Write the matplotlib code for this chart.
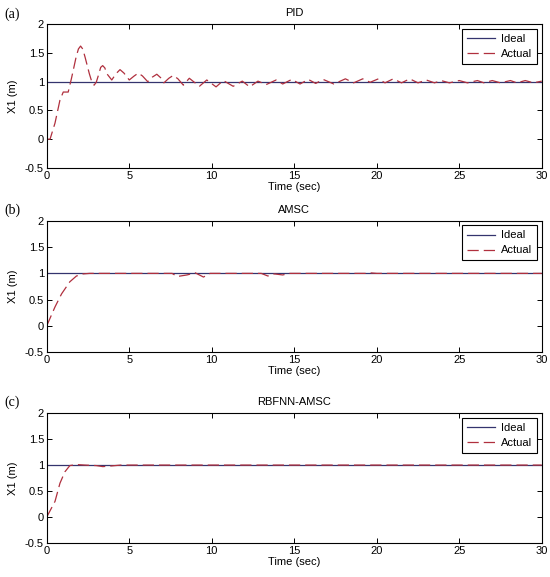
import numpy as np
import matplotlib.pyplot as plt

# reference (ideal) trajectory
t_ideal = [0, 30]
x_ideal = [1, 1]

# PID response
t_pid = [0, 0.2, 0.5, 0.8, 1.0, 1.3, 1.5, 1.78, 1.92, 2.05, 2.18, 2.32, 2.58, 2.75, 2.87,
         3.0, 3.13, 3.27, 3.39, 3.52, 3.64, 3.94, 4.2, 4.44, 4.68, 5.0, 5.3, 5.55,
         5.8, 6.12, 6.4, 6.67, 6.9, 7.1, 7.4, 7.67, 7.95, 8.28, 8.64, 9.25,
         9.7, 10.26, 10.7, 11.3, 11.85, 12.3, 12.8, 13.3, 13.9, 14.3, 14.85,
         15.35, 15.85, 16.3, 16.75, 17.4, 18.1, 18.6, 19.15, 19.6, 20.1, 20.5,
         21.0, 21.5, 22.0, 22.5, 23.0, 23.5, 23.9, 24.4, 25.0, 25.5, 26.1, 26.5,
         27.0, 27.5, 28.1, 28.5, 29.0, 29.5, 30.0]
x_pid = [0, 0, 0.28, 0.68, 0.82, 0.82, 1.06, 1.43, 1.57, 1.62, 1.57, 1.43, 1.14, 0.98, 0.94,
         0.99, 1.11, 1.25, 1.28, 1.24, 1.14, 1.03, 1.14, 1.21, 1.15, 1.03, 1.1, 1.15,
         1.1, 1.0, 1.08, 1.13, 1.07, 0.98, 1.06, 1.11, 1.05, 0.94, 1.06, 0.92,
         1.03, 0.91, 1.02, 0.92, 1.01, 0.91, 1.01, 0.95, 1.03, 0.96, 1.04,
         0.96, 1.04, 0.97, 1.04, 0.96, 1.05, 0.98, 1.05, 0.99, 1.05, 0.98,
         1.05, 0.98, 1.05, 0.98, 1.03, 0.98, 1.02, 0.98, 1.02, 0.98, 1.02, 0.98,
         1.02, 0.98, 1.02, 0.98, 1.02, 0.98, 1.01]

# AMSC response
t_amsc = [0, 0.5, 0.9, 1.4, 1.8, 2.2, 2.6, 7.6, 7.9, 8.5, 9.0, 9.5, 9.9, 13.0,
          13.4, 13.8, 14.3, 14.7, 19.3, 19.6, 20.0, 30.0]
x_amsc = [0, 0.36, 0.61, 0.84, 0.95, 0.99, 1.0, 1.0, 0.94, 0.97, 1.01, 0.93, 1.0, 1.0,
          0.95, 0.99, 0.97, 1.0, 1.0, 1.01, 1.0, 1.0]

# RBFNN-AMSC response
t_rbf = [0, 0.5, 0.8, 1.1, 1.4, 1.8, 2.3, 3.0, 3.4, 3.8, 4.5, 30.0]
x_rbf = [0, 0.3, 0.65, 0.87, 0.99, 1.01, 1.0, 0.99, 0.97, 0.98, 1.0, 1.0]

titles = ['PID', 'AMSC', 'RBFNN-AMSC']
tags = ['(a)', '(b)', '(c)']
series = [(t_pid, x_pid), (t_amsc, x_amsc), (t_rbf, x_rbf)]

plt.rcParams['font.family'] = ['Liberation Sans', 'DejaVu Sans']
plt.rcParams['font.size'] = 8

fig = plt.figure(figsize=(5.5, 5.77), dpi=100)
boxes = [[0.085, 0.709, 0.900, 0.249],
         [0.085, 0.390, 0.900, 0.227],
         [0.085, 0.059, 0.900, 0.225]]

for box, ttl, tag, (tt, xx) in zip(boxes, titles, tags, series):
    ax = fig.add_axes(box)
    ax.plot(t_ideal, x_ideal, color='#34346e', lw=0.9, label='Ideal')
    ax.plot(tt, xx, color='#b0303e', lw=0.9, dashes=(9, 4), label='Actual')
    ax.set_xlim(0, 30)
    ax.set_ylim(-0.5, 2)
    ax.set_xticks([0, 5, 10, 15, 20, 25, 30])
    ax.set_yticks([-0.5, 0, 0.5, 1, 1.5, 2])
    ax.set_yticklabels(['-0.5', '0', '0.5', '1', '1.5', '2'])
    ax.tick_params(direction='in', top=True, right=True, length=3.5, width=0.7, pad=2)
    for s in ax.spines.values():
        s.set_linewidth(0.8)
    ax.set_title(ttl, fontsize=8, pad=6)
    ax.set_xlabel('Time (sec)', labelpad=1)
    ax.set_ylabel('X1 (m)', labelpad=5)
    leg = ax.legend(loc='upper right', fancybox=False, framealpha=1, edgecolor='black',
                    handlelength=2.5, borderpad=0.45, labelspacing=0.45, handletextpad=0.6,
                    borderaxespad=0.4)
    leg.get_frame().set_linewidth(0.8)
    fig.text(0.008, box[1] + box[3] + 0.018, tag, family=['Liberation Serif', 'DejaVu Serif'],
             fontsize=10, va='center', ha='left')

fig.savefig('out.png', dpi=100)
